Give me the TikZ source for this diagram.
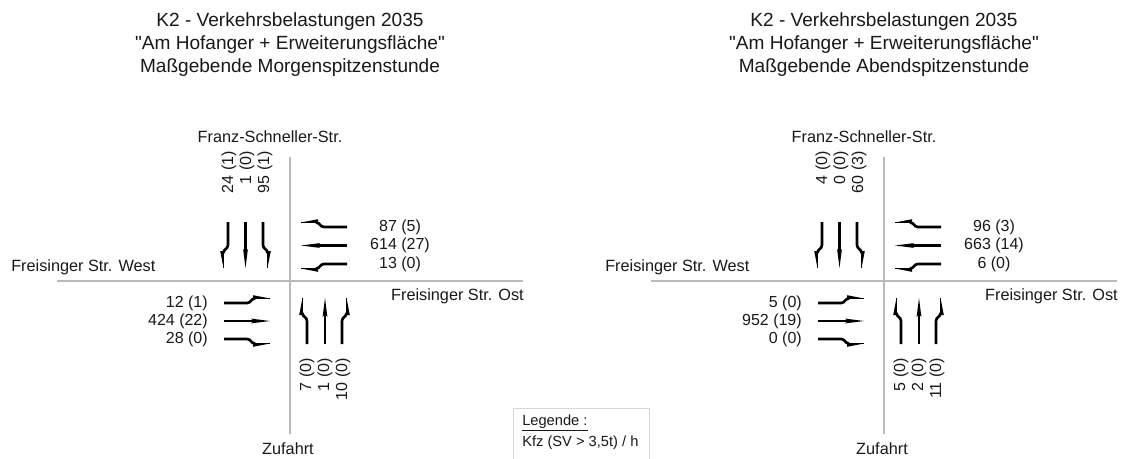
\documentclass[tikz,border=0pt]{standalone}
\usepackage{fontspec}
\setmainfont{Liberation Sans}
% plain family without TeX input mapping, so " stays a straight quote
\newfontfamily\labelfam{Liberation Sans}

\definecolor{roadgray}{RGB}{185,185,185}
\definecolor{boxgray}{RGB}{215,215,215}
\definecolor{ink}{RGB}{25,25,25}

\tikzset{
  road/.style={draw=roadgray, line width=0.8pt},
  shaft/.style={line width=2pt, line cap=butt},
  tailline/.style={line width=0.7pt},
  title/.style={align=center, inner sep=0pt, text=ink, font=\labelfam\fontsize{14.3}{17.25}\selectfont},
  street/.style={inner sep=0pt, text=ink, font=\labelfam\fontsize{12.2}{14}\selectfont},
  vol/.style={inner sep=0pt, text=ink, font=\labelfam\fontsize{12}{14}\selectfont},
  legtext/.style={inner sep=0pt, anchor=west, text=ink, font=\labelfam\fontsize{11}{13}\selectfont},
  % lane arrow pointing east, straight ahead
  pics/straightarrow/.style={code={
    \draw[shaft] (0,0) -- (30,0);
    \fill (27,-2.4) -- (46,0) -- (27,2.4) -- (30,0) -- cycle;
  }},
  % lane arrow pointing east, turning to the left of travel
  pics/turnarrow/.style={code={
    \draw[shaft] (0,0) -- (23,0) .. controls (27,0) and (27,-4.5) .. (31,-4.5);
    \draw[tailline] (30,-4.5) -- (46,-4.5);
    \fill (29,-4.5) -- (46,-4.5) -- (29,-7.8) -- cycle;
  }},
}

% one junction: #1 name prefix, #2 third title line,
% #3 north, #4 east, #5 west, #6 south volumes
\newcommand\junction[6]{%
  \node[title] (#1-title) at (290,45)
    {K2 - Verkehrsbelastungen 2035\\"Am Hofanger + Erweiterungsfläche"\\#2};
  \coordinate (#1-n) at (290,157);
  \coordinate (#1-s) at (290,434);
  \coordinate (#1-w) at (57,281);
  \coordinate (#1-e) at (523,281);
  \draw[road] (#1-n) -- (#1-s);
  \draw[road] (#1-w) -- (#1-e);
  \node[street] (#1-fs) at (270,137) {Franz-Schneller-Str.};
  \node[street, anchor=west] (#1-fw) at (11,267) {Freisinger Str. West};
  \node[street, anchor=east] (#1-fo) at (524,296) {Freisinger Str. Ost};
  \node[street] (#1-zu) at (288,449) {Zufahrt};
  % north arm
  \foreach \t [count=\i, evaluate=\i as \xx using 229+18*(\i-1)] in {#3}
    \node[vol, rotate=90, anchor=east] (#1-nv\i) at (\xx,151) {\t};
  \pic[rotate=-90, yscale=-1] at (228,222) {turnarrow};
  \pic[rotate=-90] at (245.5,222) {straightarrow};
  \pic[rotate=-90] at (263,222) {turnarrow};
  % east arm
  \foreach \t [count=\i, evaluate=\i as \yy using 227+18.5*(\i-1)] in {#4}
    \node[vol] (#1-ev\i) at (400,\yy) {\t};
  \pic[rotate=180, yscale=-1] at (347,227) {turnarrow};
  \pic[rotate=180] at (347,245.5) {straightarrow};
  \pic[rotate=180] at (347,264) {turnarrow};
  % west arm
  \foreach \t [count=\i, evaluate=\i as \yy using 303+18*(\i-1)] in {#5}
    \node[vol, anchor=east] (#1-wv\i) at (208,\yy) {\t};
  \pic at (224,303) {turnarrow};
  \pic at (224,321) {straightarrow};
  \pic[yscale=-1] at (224,339) {turnarrow};
  % south arm
  \foreach \t [count=\i, evaluate=\i as \xx using 307+18*(\i-1)] in {#6}
    \node[vol, rotate=90, anchor=east] (#1-sv\i) at (\xx,358) {\t};
  \pic[rotate=90] at (307,344) {turnarrow};
  \pic[rotate=90] at (325,344) {straightarrow};
  \pic[rotate=90, yscale=-1] at (342,344) {turnarrow};
}

\begin{document}
\begin{tikzpicture}[x=0.75pt, y=-0.75pt]
  \useasboundingbox (0,0) rectangle (1131,458);
  \clip (0,0) rectangle (1131,458);
  \fill[white] (0,0) rectangle (1131,458);

  \junction{am}{Maßgebende Morgenspitzenstunde}
    {{24 (1)},{1 (0)},{95 (1)}}
    {{87 (5)},{614 (27)},{13 (0)}}
    {{12 (1)},{424 (22)},{28 (0)}}
    {{7 (0)},{1 (0)},{10 (0)}}

  \begin{scope}[shift={(594,0)}]
    \junction{pm}{Maßgebende Abendspitzenstunde}
      {{4 (0)},{0 (0)},{60 (3)}}
      {{96 (3)},{663 (14)},{6 (0)}}
      {{5 (0)},{952 (19)},{0 (0)}}
      {{5 (0)},{2 (0)},{11 (0)}}
  \end{scope}

  % legend
  \coordinate (lg-a) at (513,462);
  \coordinate (lg-b) at (649,408);
  \draw[boxgray, line width=0.75pt] (lg-a) rectangle (lg-b);
  \node[legtext] (lg-head) at (522,423) {\underline{Legende :}};
  \node[legtext] (lg-unit) at (522,443) {Kfz (SV > 3,5t) / h};
\end{tikzpicture}
\end{document}
